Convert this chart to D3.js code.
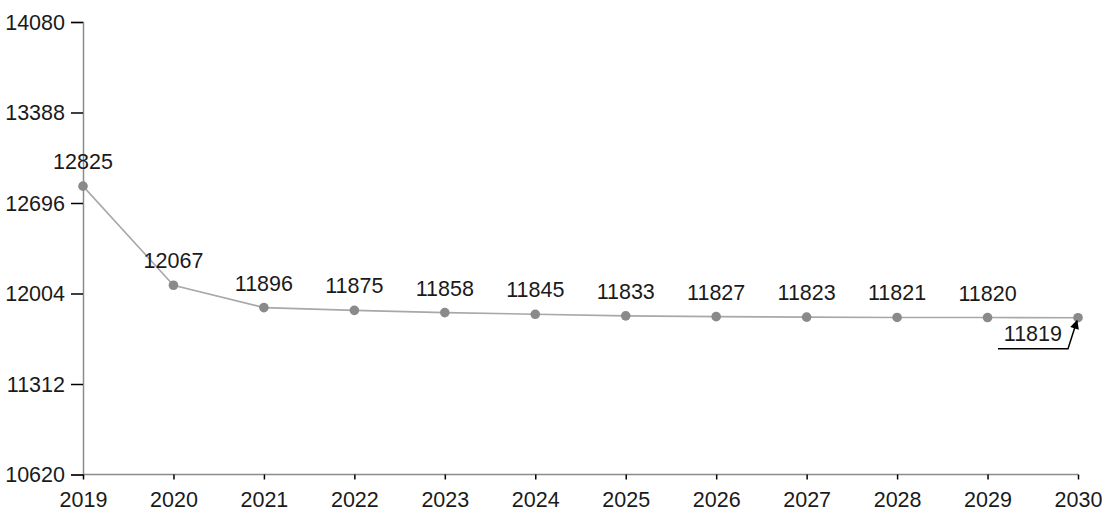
<!DOCTYPE html>
<html>
<head>
<meta charset="utf-8">
<script src="https://cdn.jsdelivr.net/npm/d3@7"></script>
<style>
  html, body { margin: 0; padding: 0; background: #fff; }
  svg { display: block; font-family: "Liberation Sans", Arial, sans-serif; }
</style>
</head>
<body>
<svg id="chart" width="1106" height="515"></svg>
<script>
const years = [2019, 2020, 2021, 2022, 2023, 2024, 2025, 2026, 2027, 2028, 2029, 2030];
const values = [12825, 12067, 11896, 11875, 11858, 11845, 11833, 11827, 11823, 11821, 11820, 11819];
const yTicks = [10620, 11312, 12004, 12696, 13388, 14080];

const svg = d3.select("#chart");
const fontSize = 21.5;

const x = d3.scaleLinear().domain([2019, 2030]).range([83, 1078]);
const y = d3.scaleLinear().domain([10620, 14080]).range([474.5, 22]);

// Y axis
const yAxis = d3.axisLeft(y).tickValues(yTicks).tickFormat(d3.format("d")).tickSize(12).tickPadding(6);
const gy = svg.append("g").attr("transform", "translate(83,0)").call(yAxis);
gy.select(".domain").attr("stroke", "#8c8c8c").attr("stroke-width", 1.5);
gy.selectAll(".tick line").attr("stroke", "#000").attr("stroke-width", 1.5);
gy.selectAll(".tick text").attr("font-size", fontSize).attr("fill", "#1a1a1a")
  .attr("font-family", "'Liberation Sans', Arial, sans-serif").attr("dy", "0.34em");

// X axis
const xAxis = d3.axisBottom(x).tickValues(years).tickFormat(d3.format("d")).tickSize(5).tickPadding(12);
const gx = svg.append("g").attr("transform", "translate(0,474.5)").call(xAxis);
gx.select(".domain").attr("stroke", "#8c8c8c").attr("stroke-width", 1.5).attr("d", `M${x(2019)},0H${x(2030)}`);
gx.selectAll(".tick line").attr("stroke", "#000").attr("stroke-width", 1.5);
gx.selectAll(".tick text").attr("font-size", fontSize).attr("fill", "#1a1a1a")
  .attr("font-family", "'Liberation Sans', Arial, sans-serif");

const data = years.map((yr, i) => ({ year: yr, value: values[i] }));

// Line
svg.append("path")
  .datum(data)
  .attr("fill", "none")
  .attr("stroke", "#a8a8a8")
  .attr("stroke-width", 1.6)
  .attr("d", d3.line().x(d => x(d.year)).y(d => y(d.value)));

// Markers
svg.append("g").selectAll("circle")
  .data(data)
  .join("circle")
  .attr("cx", d => x(d.year))
  .attr("cy", d => y(d.value))
  .attr("r", 4.8)
  .attr("fill", "#8a8a8a");

// Labels (all but last above the point)
const last = data[data.length - 1];
svg.append("g").selectAll("text")
  .data(data.slice(0, -1))
  .join("text")
  .attr("x", d => x(d.year))
  .attr("y", d => y(d.value) - 17)
  .attr("text-anchor", "middle")
  .attr("font-size", fontSize)
  .attr("fill", "#1a1a1a")
  .text(d => d.value);

// Callout label for last point
svg.append("defs").append("marker")
  .attr("id", "arrow")
  .attr("viewBox", "0 0 10 10")
  .attr("refX", 9).attr("refY", 5)
  .attr("markerUnits", "userSpaceOnUse")
  .attr("markerWidth", 11).attr("markerHeight", 9)
  .attr("orient", "auto")
  .append("path").attr("d", "M0,0L10,5L0,10z").attr("fill", "#000");

const lx = x(last.year), ly = y(last.value);
svg.append("path")
  .attr("fill", "none")
  .attr("stroke", "#000")
  .attr("stroke-width", 1.5)
  .attr("marker-end", "url(#arrow)")
  .attr("d", `M${lx - 80},${ly + 31}H${lx - 10}L${lx - 1},${ly + 3}`);
svg.append("text")
  .attr("x", lx - 16)
  .attr("y", ly + 23)
  .attr("text-anchor", "end")
  .attr("font-size", fontSize)
  .attr("fill", "#1a1a1a")
  .text(last.value);
</script>
</body>
</html>
